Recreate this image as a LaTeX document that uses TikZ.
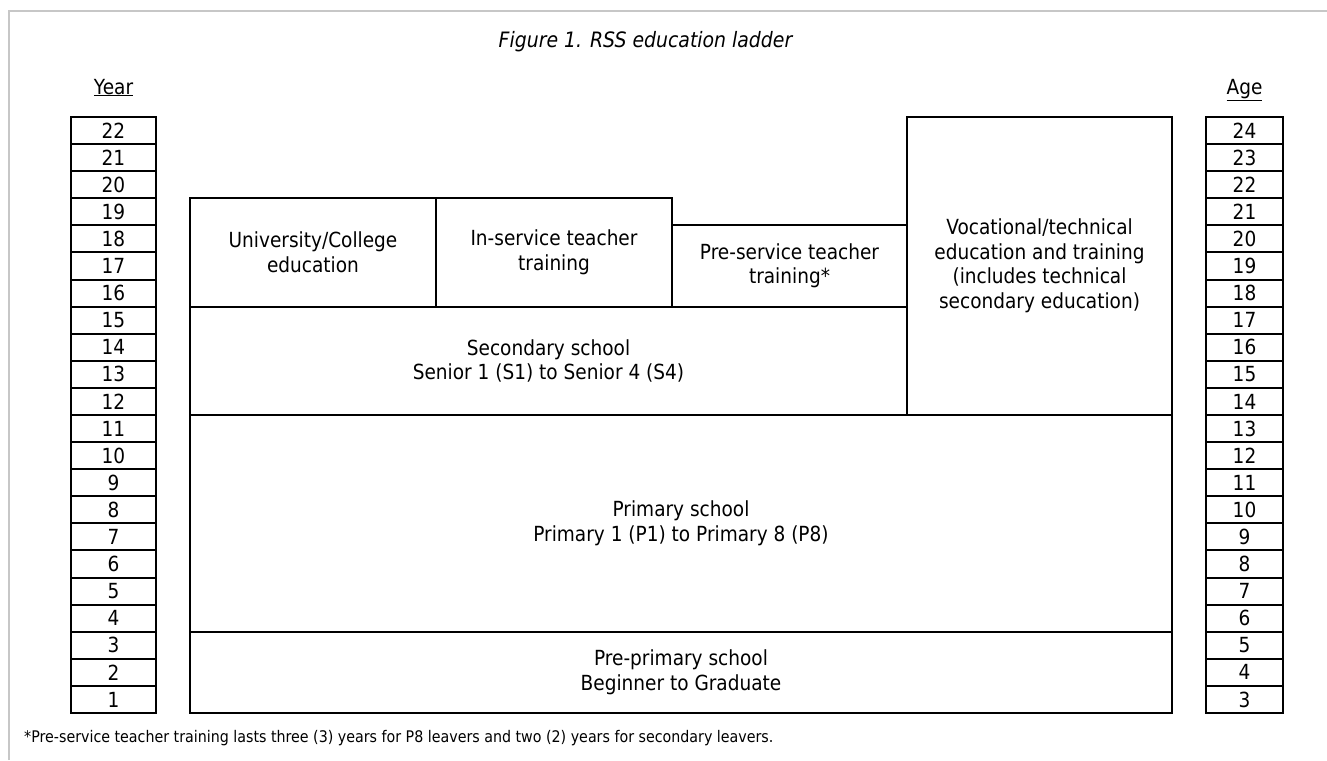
\documentclass[tikz,border=0pt]{standalone}
\usepackage{fontspec}
\setmainfont{DejaVu Sans}[FakeStretch=0.89]
\newcommand{\cellfont}{\fontsize{20.8}{24.5}\selectfont}
\newcommand{\notefont}{\fontsize{16}{18}\selectfont}
\newcommand{\ttlfont}{\fontsize{21.2}{24}\selectfont\itshape}
\begin{document}
\begin{tikzpicture}[x=1pt,y=-1pt,
  line/.style={draw=black,line width=2pt},
  cell/.style={line,minimum width=85pt,minimum height=27.09pt,inner sep=0pt,font=\cellfont},
  agecell/.style={cell,minimum width=77pt},
  box/.style={line,inner sep=0pt,align=center,font=\cellfont},
  frameline/.style={draw=black!22,line width=2pt}]
\useasboundingbox (0,0) rectangle (1327,760);
\draw[frameline] (9,760) -- (9,11) -- (1327,11);
% title and headers
\node[font=\ttlfont] (title) at (645.5,42) {Figure 1. RSS education ladder};
\node[anchor=base,font=\cellfont,inner sep=0pt] (yearlbl) at (113.5,94) {\underline{Year}};
\node[anchor=base,font=\cellfont,inner sep=0pt] (agelbl) at (1244.5,94) {\underline{Age}};
% columns
\foreach \k in {0,...,21} {
  \pgfmathtruncatemacro{\n}{22-\k}
  \pgfmathtruncatemacro{\a}{24-\k}
  \node[cell] (y\n) at (113.5,{117+\k*27.0909+13.545}) {\n};
  \node[agecell] (a\a) at (1244.5,{117+\k*27.0909+13.545}) {\a};
}
% main boxes
\node[box,minimum width=246pt,minimum height=108.37pt] (univ) at (313,252.45) {University/College\\education};
\node[box,minimum width=236pt,minimum height=108.37pt] (inserv) at (554,252.45) {In-service teacher\\training};
\node[box,minimum width=235pt,minimum height=81.28pt] (preserv) at (789.5,266) {Pre-service teacher\\training*};
\node[box,minimum width=265pt,minimum height=298pt] (voc) at (1039.5,266) {Vocational/technical\\education and training\\(includes technical\\secondary education)};
\node[box,minimum width=717pt,minimum height=108.36pt] (sec) at (548.5,360.82) {Secondary school\\Senior 1 (S1) to Senior 4 (S4)};
\node[box,minimum width=982pt,minimum height=216.73pt] (prim) at (681,523.36) {Primary school\\Primary 1 (P1) to Primary 8 (P8)};
\node[box,minimum width=982pt,minimum height=81.27pt] (preprim) at (681,672.36) {Pre-primary school\\Beginner to Graduate};
% footnote
\node[anchor=west,inner sep=0pt,font=\notefont] (note) at (24,738) {*Pre-service teacher training lasts three (3) years for P8 leavers and two (2) years for secondary leavers.};
\end{tikzpicture}
\end{document}
